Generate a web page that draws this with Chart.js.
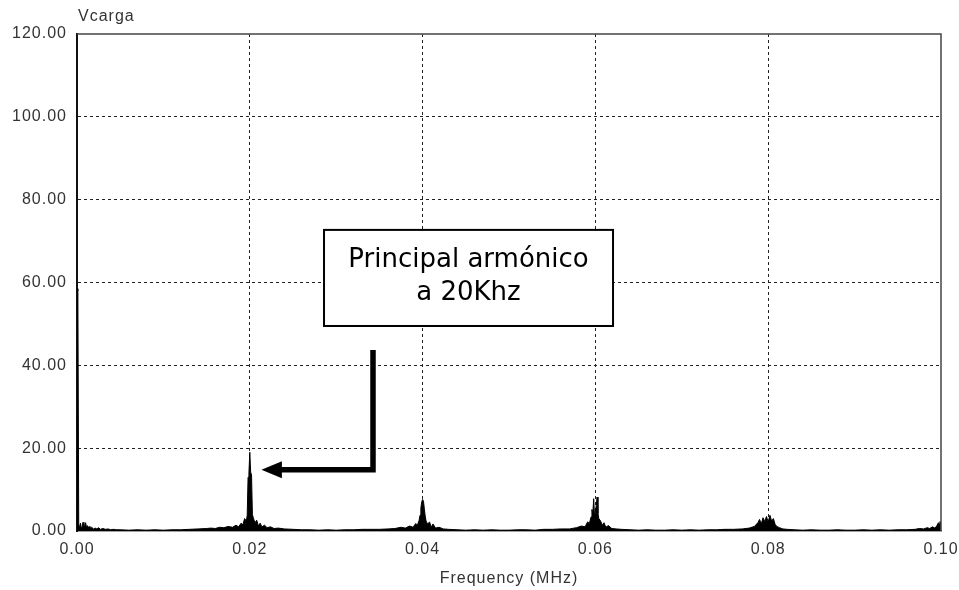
<!DOCTYPE html>
<html>
<head>
<meta charset="utf-8">
<script src="https://cdn.jsdelivr.net/npm/chart.js@4.4.1/dist/chart.umd.min.js"></script>
<style>
    body { margin: 0; background: #fff; }
</style>
</head>
<body>
<canvas id="grafica" width="959" height="590"></canvas>
<script>
// frecuencia en MHz
const freq = [
    0, 0.0001, 0.0002, 0.0003, 0.0004, 0.0005, 0.0006, 0.0007, 0.0008, 0.0009,
    0.001, 0.0011, 0.0012, 0.0013, 0.0014, 0.0015, 0.0017, 0.0019, 0.0021, 0.0023,
    0.0025, 0.0027, 0.003, 0.0033, 0.0036, 0.0039, 0.0042, 0.0046, 0.005,
    0.006, 0.007, 0.008, 0.009, 0.010, 0.011, 0.012, 0.013, 0.014,
    0.015, 0.0155, 0.016, 0.0165, 0.017, 0.0175, 0.018, 0.0184, 0.0187, 0.019,
    0.0192, 0.0194, 0.0196, 0.0197, 0.0198, 0.0199, 0.02, 0.0201, 0.0202, 0.0203,
    0.0204, 0.0206, 0.0208, 0.021, 0.0212, 0.0214, 0.0217, 0.022, 0.0224, 0.0228,
    0.0233, 0.024,
    0.025, 0.026, 0.027, 0.028, 0.029, 0.030, 0.031, 0.032, 0.033, 0.034,
    0.035, 0.036, 0.0368, 0.0375, 0.038, 0.0385, 0.0389, 0.0392, 0.0394, 0.0396,
    0.0397, 0.0398, 0.0399, 0.04, 0.0401, 0.0402, 0.0403, 0.0404, 0.0406, 0.0408,
    0.041, 0.0412, 0.0415, 0.0419, 0.0424, 0.043,
    0.044, 0.045, 0.046, 0.047, 0.048, 0.049, 0.050, 0.051, 0.052, 0.053,
    0.054, 0.055, 0.056,
    0.057, 0.0578, 0.0584, 0.0588, 0.0591, 0.0593, 0.0595, 0.0596, 0.0597, 0.0598,
    0.0599, 0.06, 0.0601, 0.0602, 0.0603, 0.0604, 0.0606, 0.0608, 0.061, 0.0612,
    0.0615, 0.0619, 0.0624, 0.063,
    0.064, 0.065, 0.066, 0.067, 0.068, 0.069, 0.070, 0.071, 0.072, 0.073,
    0.074, 0.075, 0.076,
    0.077, 0.0778, 0.0784, 0.0788, 0.079, 0.0792, 0.0794, 0.0796, 0.0798, 0.08,
    0.0802, 0.0804, 0.0806, 0.0808, 0.081, 0.0813, 0.0817, 0.0822,
    0.083, 0.084, 0.085, 0.086, 0.087, 0.088, 0.089, 0.09, 0.091, 0.092,
    0.093, 0.094, 0.095, 0.096, 0.097, 0.0975, 0.098, 0.0984, 0.0987, 0.099,
    0.0993, 0.0995, 0.0997, 0.0998, 0.0999, 0.1
];

// amplitud Vcarga
const vcarga = [
    58.5, 58.0, 1.6, 0.8, 1.9, 0.7, 1.0, 2.1, 0.9, 1.2,
    2.0, 0.8, 1.3, 0.7, 1.1, 0.6, 0.9, 0.5, 0.7, 0.5,
    0.8, 0.4, 0.6, 0.4, 0.5, 0.3, 0.4, 0.3, 0.3,
    0.2, 0.3, 0.2, 0.3, 0.2, 0.3, 0.3, 0.4, 0.5,
    0.6, 0.7, 0.6, 0.9, 0.8, 1.1, 0.9, 1.4, 1.0, 1.9,
    1.5, 3.0, 2.4, 3.8, 13.0, 14.0, 19.0, 14.2, 13.6, 4.0,
    3.2, 2.0, 2.6, 1.2, 1.9, 1.0, 1.4, 0.8, 1.0, 0.6,
    0.7, 0.5,
    0.4, 0.3, 0.3, 0.2, 0.3, 0.2, 0.3, 0.3, 0.4, 0.4,
    0.4, 0.5, 0.6, 0.9, 0.7, 1.2, 0.9, 1.8, 1.4, 2.6,
    3.8, 5.6, 7.0, 7.6, 7.2, 5.4, 3.6, 2.4, 1.6, 2.2,
    0.9, 1.7, 0.7, 0.9, 0.5, 0.4,
    0.3, 0.2, 0.3, 0.2, 0.3, 0.2, 0.2, 0.3, 0.3, 0.2,
    0.4, 0.4, 0.5,
    0.5, 0.8, 1.2, 1.0, 2.2, 1.8, 3.4, 5.2, 4.0, 7.8,
    3.6, 4.6, 6.2, 8.2, 4.2, 3.0, 2.4, 1.4, 2.0, 0.9,
    1.3, 0.6, 0.5, 0.4,
    0.3, 0.2, 0.3, 0.2, 0.2, 0.3, 0.2, 0.3, 0.2, 0.3,
    0.3, 0.4, 0.4,
    0.5, 0.7, 1.1, 2.0, 2.8, 1.7, 3.2, 2.3, 3.5, 2.2,
    3.8, 2.4, 3.0, 1.6, 1.1, 0.8, 0.5, 0.4,
    0.3, 0.2, 0.3, 0.2, 0.2, 0.3, 0.2, 0.2, 0.3, 0.2,
    0.3, 0.2, 0.3, 0.3, 0.4, 0.6, 0.5, 0.8, 0.6, 1.0,
    0.7, 1.2, 2.0, 1.1, 2.3, 1.4
];

const ticksX = [0, 0.02, 0.04, 0.06, 0.08, 0.10];
const ticksY = [0, 20, 40, 60, 80, 100, 120];

const nota = ["Principal armónico", "a 20Khz"];

const puntos = [];
for (let i = 0; i < Math.min(freq.length, vcarga.length); i++) {
    puntos.push({ x: freq[i], y: vcarga[i] });
}

const fuente = "'Liberation Sans', Arial, sans-serif";

// titulo del eje, marco y anotacion con flecha
const extras = {
    id: "extras",
    beforeDraw(chart) {
        // el texto del original va algo espaciado
        chart.ctx.letterSpacing = "1px";
    },
    afterDraw(chart) {
        const ctx = chart.ctx;
        const a = chart.chartArea;
        const sx = chart.scales.x;
        const sy = chart.scales.y;

        ctx.save();

        // marco superior y derecho
        ctx.strokeStyle = "#444";
        ctx.lineWidth = 1.5;
        ctx.beginPath();
        ctx.moveTo(a.left, a.top);
        ctx.lineTo(a.right, a.top);
        ctx.lineTo(a.right, a.bottom);
        ctx.stroke();

        ctx.fillStyle = "#333";
        ctx.font = "16px " + fuente;
        ctx.letterSpacing = "1px";
        ctx.textAlign = "left";
        ctx.textBaseline = "alphabetic";
        ctx.fillText("Vcarga", a.left + 1, 21);

        // caja
        const x1 = sx.getPixelForValue(0.02859);
        const x2 = sx.getPixelForValue(0.06204);
        const y1 = sy.getPixelForValue(72.7);
        const y2 = sy.getPixelForValue(49.5);
        ctx.fillStyle = "#fff";
        ctx.fillRect(x1, y1, x2 - x1, y2 - y1);
        ctx.strokeStyle = "#000";
        ctx.lineWidth = 2;
        ctx.strokeRect(x1, y1, x2 - x1, y2 - y1);

        ctx.fillStyle = "#000";
        ctx.letterSpacing = "0px";
        ctx.font = "26px 'DejaVu Sans', Verdana, sans-serif";
        ctx.textAlign = "center";
        const cx = (x1 + x2) / 2;
        ctx.fillText(nota[0], cx, y1 + 37);
        ctx.fillText(nota[1], cx, y1 + 70);

        // flecha
        const fx = sx.getPixelForValue(0.03426);
        const fyTop = sy.getPixelForValue(43.7);
        const fyBot = sy.getPixelForValue(14.8);
        const baseX = sx.getPixelForValue(0.0236);
        const puntaX = sx.getPixelForValue(0.02135);
        ctx.strokeStyle = "#000";
        ctx.lineWidth = 5.5;
        ctx.lineCap = "butt";
        ctx.beginPath();
        ctx.moveTo(fx, fyTop);
        ctx.lineTo(fx, fyBot);
        ctx.lineTo(baseX, fyBot);
        ctx.stroke();
        ctx.beginPath();
        ctx.moveTo(puntaX, fyBot);
        ctx.lineTo(baseX + 1, fyBot - 8.5);
        ctx.lineTo(baseX + 1, fyBot + 8.5);
        ctx.closePath();
        ctx.fill();

        ctx.restore();
    }
};

const chart = new Chart(document.getElementById("grafica").getContext("2d"), {
    type: "line",
    data: {
        datasets: [{
            label: "Vcarga",
            data: puntos,
            borderColor: "#000",
            backgroundColor: "#000",
            borderWidth: 1,
            fill: "origin",
            pointRadius: 0,
            tension: 0
        }]
    },
    options: {
        responsive: false,
        animation: false,
        layout: { padding: { top: 34, right: 18, left: 0, bottom: 0 } },
        plugins: {
            legend: { display: false },
            tooltip: { enabled: false }
        },
        scales: {
            x: {
                type: "linear",
                min: 0,
                max: 0.1,
                afterBuildTicks: (s) => { s.ticks = ticksX.map(v => ({ value: v })); },
                afterFit: (s) => { s.height = 59; s.paddingRight = 0; s.paddingLeft = 0; },
                ticks: {
                    color: "#333",
                    font: { family: fuente, size: 16 },
                    padding: 9,
                    maxRotation: 0,
                    callback: (v) => Number(v).toFixed(2)
                },
                grid: {
                    color: (c) => (c.tick && (c.tick.value === 0 || c.tick.value === 0.1)) ? "rgba(0,0,0,0)" : "#222",
                    lineWidth: 1,
                    drawTicks: false
                },
                border: { display: true, color: "#444", width: 1.5, dash: [3, 3] },
                title: {
                    display: true,
                    text: "Frequency (MHz)",
                    color: "#333",
                    font: { family: fuente, size: 16 },
                    padding: { top: 0, bottom: 2 }
                }
            },
            y: {
                min: 0,
                max: 120,
                afterBuildTicks: (s) => { s.ticks = ticksY.map(v => ({ value: v })); },
                afterFit: (s) => { s.width = 77; },
                ticks: {
                    color: "#333",
                    font: { family: fuente, size: 16 },
                    padding: 10,
                    callback: (v) => Number(v).toFixed(2)
                },
                grid: {
                    color: (c) => (c.tick && (c.tick.value === 0 || c.tick.value === 120)) ? "rgba(0,0,0,0)" : "#222",
                    lineWidth: 1,
                    drawTicks: false
                },
                border: { display: true, color: "#111", width: 2, dash: [3, 3] }
            }
        }
    },
    plugins: [extras]
});
</script>
</body>
</html>
